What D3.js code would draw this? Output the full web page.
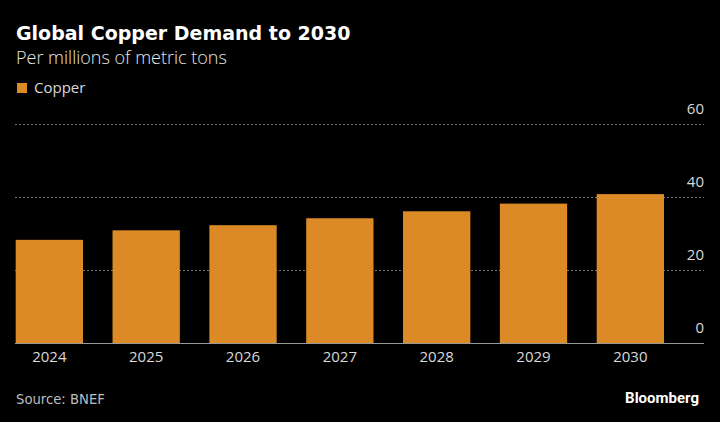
<!DOCTYPE html>
<html><head><meta charset="utf-8">
<script src="https://cdn.jsdelivr.net/npm/d3@7"></script>
<style>html,body{margin:0;padding:0;background:#000;}svg{display:block;}</style>
</head><body>
<script>
const categories = ["2024","2025","2026","2027","2028","2029","2030"];
const copperValues = [28.2, 30.8, 32.2, 34.1, 36.0, 38.1, 40.7];
const yTicks = [0, 20, 40, 60];
const seriesName = "Copper";
const title = "Global Copper Demand to 2030";
const subtitle = "Per millions of metric tons";
const source = "Source: BNEF";

const W = 720, H = 422;
const svg = d3.select("body").append("svg").attr("width", W).attr("height", H).style("background", "#000");
const font = "'Open Sans', 'Noto Sans', sans-serif";

const x = d3.scaleBand().domain(categories).range([15.7, 664]).paddingInner(0.305).paddingOuter(0);
const y = d3.scaleLinear().domain([0, 60]).range([343, 123.5]);

// gridlines
svg.append("g").selectAll("line").data(yTicks.filter(d => d > 0)).join("line")
  .attr("x1", 15).attr("x2", 704)
  .attr("y1", d => Math.round(y(d)) + 0.5).attr("y2", d => Math.round(y(d)) + 0.5)
  .attr("stroke", "#777").attr("stroke-width", 1).attr("stroke-dasharray", "2,2");

// y labels
svg.append("g").selectAll("text").data(yTicks).join("text")
  .attr("x", 704).attr("y", d => y(d) - 10)
  .attr("text-anchor", "end").attr("fill", "#d9d9d9")
  .style("font-family", font).style("font-size", "15px")
  .text(d => d);

// bars
svg.append("g").selectAll("rect").data(copperValues).join("rect")
  .attr("x", (d, i) => x(categories[i]))
  .attr("width", x.bandwidth())
  .attr("y", d => y(d))
  .attr("height", d => y(0) - y(d))
  .attr("fill", "#dc8a26");

// baseline
svg.append("line").attr("x1", 15).attr("x2", 704).attr("y1", 343.5).attr("y2", 343.5)
  .attr("stroke", "#9a9a9a").attr("stroke-width", 1);

// x labels
svg.append("g").selectAll("text").data(categories).join("text")
  .attr("x", d => x(d) + x.bandwidth() / 2).attr("y", 362)
  .attr("text-anchor", "middle").attr("fill", "#d9d9d9")
  .style("font-family", font).style("font-size", "15px")
  .text(d => d);

// title
svg.append("text").attr("x", 16).attr("y", 39.5).attr("fill", "#fff")
  .style("font-family", "'DejaVu Sans', sans-serif").style("font-weight", "bold").style("font-size", "19px")
  .text(title);
svg.append("text").attr("x", 16).attr("y", 63.5).attr("fill", "#e6e6e6")
  .style("font-family", font).style("font-weight", "300").style("font-size", "18px")
  .text(subtitle);

// legend
svg.append("rect").attr("x", 17).attr("y", 83).attr("width", 10).attr("height", 10).attr("fill", "#dc8a26");
svg.append("text").attr("x", 34).attr("y", 93).attr("fill", "#d9d9d9")
  .style("font-family", font).style("font-size", "15px").text(seriesName);

// footer
svg.append("text").attr("x", 16).attr("y", 404).attr("fill", "#bdbdbd")
  .style("font-family", "'DejaVu Sans Condensed', 'DejaVu Sans', sans-serif").style("font-size", "14.7px").text(source);
svg.append("text").attr("x", 699).attr("y", 403).attr("text-anchor", "end").attr("fill", "#fff")
  .style("font-family", "Roboto, sans-serif").style("font-weight", "bold").style("font-size", "15px").text("Bloomberg");
</script>
</body></html>
